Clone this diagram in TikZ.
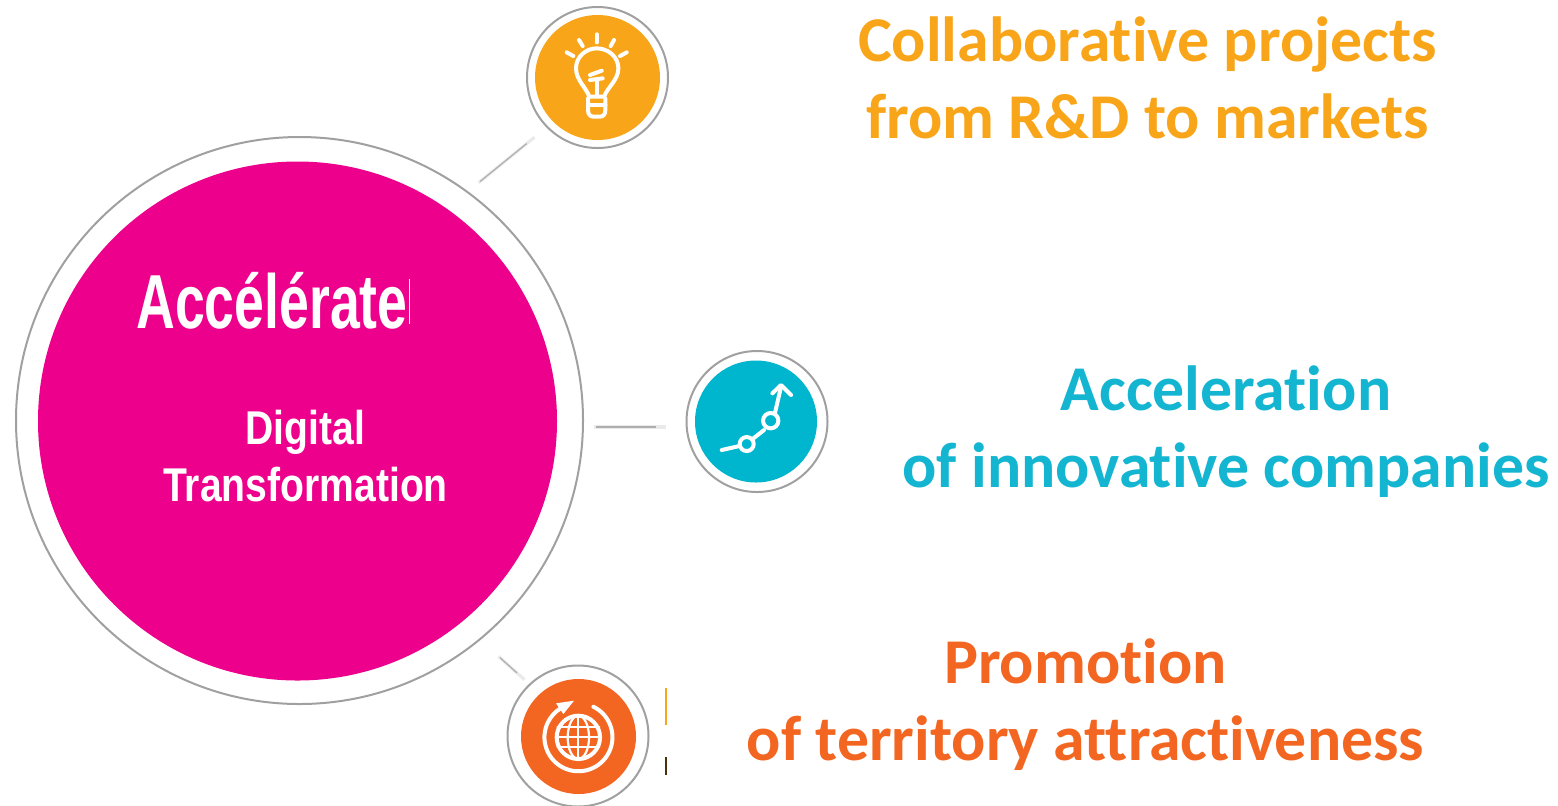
\documentclass[tikz,border=0pt]{standalone}
\usepackage{fontspec}
\setmainfont[Ligatures=NoCommon]{Carlito}
\newfontfamily\hubwide[FakeStretch=0.825]{Liberation Sans}
\newfontfamily\hubnarrow[FakeStretch=0.70]{Liberation Sans}
\definecolor{pinkhub}{HTML}{EC008C}
\definecolor{amberc}{HTML}{F9A51A}
\definecolor{tealc}{HTML}{00B5CE}
\definecolor{tealt}{HTML}{13B5D1}
\definecolor{rustc}{HTML}{F36621}
\definecolor{ringc}{HTML}{A0A0A0}
\tikzset{
  ringnode/.style={circle,draw=ringc,line width=1pt,fill=white,inner sep=0pt,outer sep=0pt,minimum size=#1*1pt},
  discnode/.style={circle,inner sep=0pt,outer sep=0pt,minimum size=#1*1pt},
  linkglow/.style={draw=ringc,line width=1.6pt,opacity=0.22,shorten >=1pt,shorten <=1pt},
  linkline/.style={draw=ringc!85,line width=0.6pt,shorten >=6pt,shorten <=2pt},
  headline/.style={font=\fontsize{31.9}{38.5}\selectfont\bfseries,align=center,anchor=base},
  hubtext/.style={text=white,align=center,anchor=base},
  iconline/.style={draw=white,line width=2pt,line cap=round,line join=round},
  iconthin/.style={draw=white,line width=1.1pt,line cap=round,line join=round},
}
\begin{document}
\begin{tikzpicture}[x=0.5pt,y=-0.5pt]
\useasboundingbox (0,0) rectangle (1558,805);
\clip (0,0) rectangle (1558,805);
% hub
\node[ringnode=283.5] (hubring) at (299.5,420.5) {};
\node[discnode=259.5,fill=pinkhub] (hub) at (297.5,421) {};
% icon discs
\node[ringnode=70.5] (ringA) at (597.5,77.5) {};
\node[discnode=62.5,fill=amberc] (discA) at (597.5,77.5) {};
\node[ringnode=70.5] (ringB) at (757,421.5) {};
\node[discnode=61,fill=tealc] (discB) at (756,421.5) {};
\node[ringnode=70.5] (ringC) at (578,736) {};
\node[discnode=57.5,fill=rustc] (discC) at (578.5,736.5) {};
% connectors
\coordinate (hubNE) at (477,184);
\coordinate (icoA) at (536,136);
\coordinate (hubE) at (592,427);
\coordinate (icoB) at (668,427);
\coordinate (hubSE) at (497,655);
\coordinate (icoC) at (526,681);
\foreach \a/\b in {hubNE/icoA,hubE/icoB,hubSE/icoC}{
  \draw[linkglow] (\a) -- (\b);
  \draw[linkline] (\a) -- (\b);
}
% bulb
\begin{scope}[shift={(500,0)},x=0.1667pt,y=-0.1667pt]
\draw[iconline] (268,290) .. controls (258,262) and (228,240) .. (228,205)
  .. controls (228,170) and (258,145) .. (290,145)
  .. controls (324,145) and (355,170) .. (355,205)
  .. controls (355,240) and (322,262) .. (312,290) -- cycle;
\draw[iconline] (264,315) -- (316,315);
\draw[iconline] (264,295) -- (264,330) .. controls (264,345) and (272,350) .. (282,350) -- (298,350)
  .. controls (308,350) and (316,345) .. (316,330) -- (316,295);
\draw[iconline] (290,240) -- (290,288);
\draw[iconline] (270,240) -- (308,235);
\draw[iconline] (270,225) -- (305,212);
\draw[iconline] (290,103) -- (290,127);
\draw[iconline] (237,120) -- (248,138);
\draw[iconline] (200,157) -- (220,168);
\draw[iconline] (342,120) -- (332,138);
\draw[iconline] (380,157) -- (360,168);
\end{scope}
% chart
\begin{scope}[shift={(580,340)},x=0.1667pt,y=-0.1667pt]
\draw[iconline] (425,330) -- (478,318);
\draw[iconline] (500,312) circle [radius=21];
\draw[iconline] (520,295) -- (552,270);
\draw[iconline] (572,242) circle [radius=23];
\draw[iconline] (585,218) -- (603,140);
\draw[iconline] (577,160) -- (603,135) -- (633,165);
\end{scope}
% globe
\begin{scope}[shift={(480,640)},x=0.1667pt,y=-0.1667pt]
\draw[iconline] (295,292) circle [radius=65];
\draw[iconthin] (295,292) circle [x radius=32,y radius=65];
\draw[iconthin] (295,227) -- (295,357);
\draw[iconthin] (232,262) -- (358,262);
\draw[iconthin] (230,292) -- (360,292);
\draw[iconthin] (232,322) -- (358,322);
\draw[iconline] (340,200) arc [start angle=-64,end angle=238,radius=102];
\fill[white] (282,182) -- (228,190) -- (250,222) -- cycle;
\end{scope}
% clipped remnants beside the lower disc
\fill[amberc] (665,688) rectangle (667,725);
\fill[black!70!amberc] (665,757) rectangle (667,775);
\fill[white] (408.5,279) rectangle (409.5,324);
% hub text
\node[hubtext,font=\hubnarrow\bfseries\fontsize{38.3}{40}\selectfont] (acc) at (272,328) {Accélérate};
\node[hubtext,font=\hubwide\bfseries\fontsize{23.7}{28.5}\selectfont] (dig) at (305.5,501) {Digital\\Transformation};
% headings
\node[headline,text=amberc] (txtA) at (1147.5,138) {Collaborative projects\\from R\&D to markets};
\node[headline,text=tealt] (txtB) at (1226,487) {Acceleration\\of innovative companies};
\node[headline,text=rustc] (txtC) at (1085.5,760) {Promotion\\of territory attractiveness};
\end{tikzpicture}
\end{document}
